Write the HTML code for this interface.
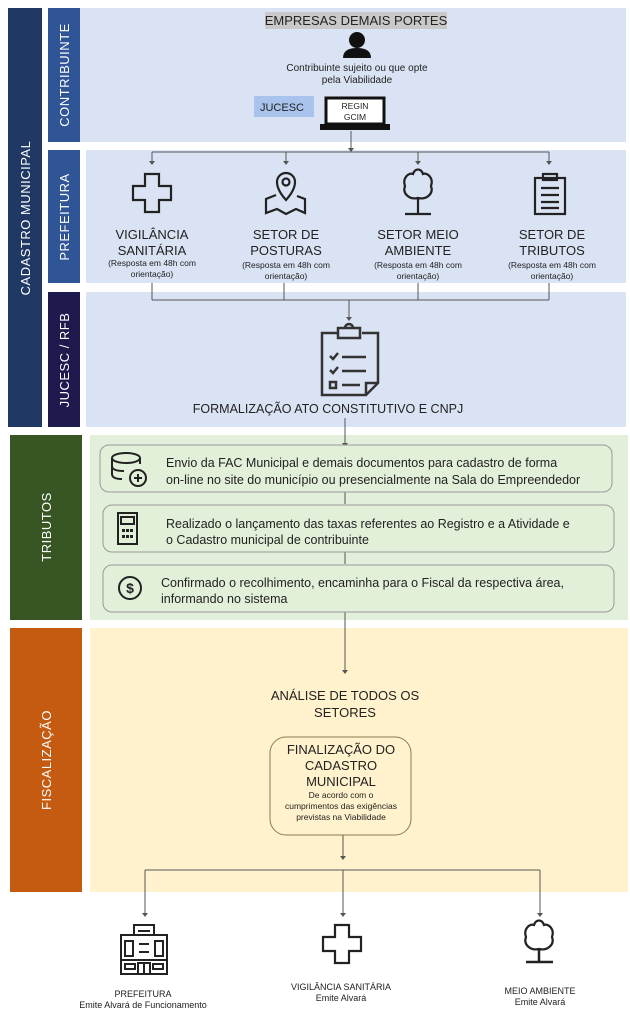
<!DOCTYPE html>
<html><head><meta charset="utf-8"><style>
html,body{margin:0;padding:0;background:#fff;}
svg{display:block;font-family:"Liberation Sans",Arial,sans-serif;}
</style></head><body>
<svg width="630" height="1024" viewBox="0 0 630 1024" xmlns="http://www.w3.org/2000/svg">
<!-- lanes -->
<rect x="8" y="8" width="34" height="419" fill="#1f3864"/>
<rect x="48" y="8" width="32" height="134" fill="#2f5597"/>
<rect x="80" y="8" width="546" height="134" fill="#dae3f3"/>
<rect x="48" y="150" width="32" height="133" fill="#2f5597"/>
<rect x="86" y="150" width="540" height="133" fill="#dae3f3"/>
<rect x="48" y="292" width="32" height="135" fill="#1e1a4d"/>
<rect x="86" y="292" width="540" height="135" fill="#dae3f3"/>
<rect x="10" y="435" width="72" height="185" fill="#375623"/>
<rect x="90" y="435" width="538" height="185" fill="#e2efda"/>
<rect x="10" y="628" width="72" height="264" fill="#c55a11"/>
<rect x="90" y="628" width="538" height="264" fill="#fff2cc"/>

<g fill="#fff" font-size="13" text-anchor="middle">
<text transform="translate(30,218) rotate(-90)" letter-spacing="0.5">CADASTRO MUNICIPAL</text>
<text transform="translate(69,75) rotate(-90)" letter-spacing="0.5">CONTRIBUINTE</text>
<text transform="translate(69,217) rotate(-90)" letter-spacing="0.5">PREFEITURA</text>
<text transform="translate(69,360) rotate(-90)" letter-spacing="0.5">JUCESC / RFB</text>
<text transform="translate(51,527) rotate(-90)" letter-spacing="0.5">TRIBUTOS</text>
<text transform="translate(51,760) rotate(-90)" letter-spacing="0.5">FISCALIZAÇÃO</text>
</g>

<!-- contribuinte -->
<rect x="265" y="12" width="182" height="17" fill="#c9c9c9"/>
<text x="356" y="25" font-size="13" text-anchor="middle" fill="#222">EMPRESAS DEMAIS PORTES</text>
<circle cx="357" cy="40" r="8" fill="#111"/>
<path d="M343 58 Q343 48 357 48 Q371 48 371 58 Z" fill="#111"/>
<text x="357" y="71" font-size="10" text-anchor="middle" fill="#222">Contribuinte sujeito ou que opte</text>
<text x="357" y="83" font-size="10" text-anchor="middle" fill="#222">pela Viabilidade</text>
<rect x="254" y="96" width="60" height="21" fill="#a9c4ec"/>
<text x="282" y="111" font-size="11" text-anchor="middle" fill="#222">JUCESC</text>
<rect x="326" y="98" width="58" height="26" fill="#fff" stroke="#111" stroke-width="3"/>
<rect x="320" y="124" width="70" height="6" fill="#111"/>
<text x="355" y="109" font-size="8.5" text-anchor="middle" fill="#222">REGIN</text>
<text x="355" y="120" font-size="8.5" text-anchor="middle" fill="#222">GCIM</text>

<!-- connectors -->
<g stroke="#555" stroke-width="1" fill="none">
<line x1="351" y1="131" x2="351" y2="150"/>
<line x1="152" y1="152" x2="549" y2="152"/>
<line x1="152" y1="152" x2="152" y2="162"/><line x1="286" y1="152" x2="286" y2="162"/>
<line x1="418" y1="152" x2="418" y2="162"/><line x1="549" y1="152" x2="549" y2="162"/>
<line x1="152" y1="283" x2="152" y2="300"/><line x1="284" y1="283" x2="284" y2="300"/>
<line x1="418" y1="283" x2="418" y2="300"/><line x1="549" y1="283" x2="549" y2="300"/>
<line x1="152" y1="300" x2="549" y2="300"/>
<line x1="349" y1="300" x2="349" y2="318"/>
<line x1="345" y1="418" x2="345" y2="445"/>
<line x1="345" y1="492" x2="345" y2="504"/>
<line x1="345" y1="552" x2="345" y2="564"/>
<line x1="345" y1="612" x2="345" y2="672"/>
<line x1="343" y1="835" x2="343" y2="858"/>
<line x1="145" y1="870" x2="540" y2="870"/>
<line x1="145" y1="870" x2="145" y2="914"/><line x1="343" y1="870" x2="343" y2="914"/><line x1="540" y1="870" x2="540" y2="914"/>
</g>
<g fill="#555">
<path d="M149 161 L155 161 L152 165Z"/><path d="M283 161 L289 161 L286 165Z"/>
<path d="M415 161 L421 161 L418 165Z"/><path d="M546 161 L552 161 L549 165Z"/>
<path d="M348 148 L354 148 L351 152Z"/>
<path d="M346 317 L352 317 L349 321Z"/>
<path d="M342 443 L348 443 L345 447Z"/>
<path d="M342 670 L348 670 L345 674Z"/>
<path d="M340 856 L346 856 L343 860Z"/>
<path d="M142 913 L148 913 L145 917Z"/><path d="M340 913 L346 913 L343 917Z"/><path d="M537 913 L543 913 L540 917Z"/>
</g>

<!-- prefeitura icons -->
<g fill="none" stroke="#222" stroke-width="2.2">
<path d="M145 174 h14 v12 h12 v14 h-12 v12 h-14 v-12 h-12 v-14 h12 z"/>
<path d="M277 182 a9 9 0 1 1 18 0 q0 8 -9 18 q-9 -10 -9 -18z"/><circle cx="286" cy="182" r="3.5"/>
<path d="M276 195 l-10 4 v14 l11 -4 l9 5 l10 -5 l9 4 v-14 l-8 -3"/>
<path d="M418 214 v-16 M405 214 h26"/>
<path d="M418 198 c-8 2 -16 -4 -13 -12 c-3 -8 4 -14 8 -12 c2 -6 8 -6 10 0 c4 -2 11 4 8 12 c3 8 -5 14 -13 12z"/>
<rect x="535" y="178" width="30" height="36"/><rect x="543" y="174" width="14" height="6"/>
<path d="M541 188 h18 M541 195 h18 M541 202 h18 M541 208 h18"/>
</g>
<g text-anchor="middle" fill="#222">
<g font-size="13"><text x="152" y="239">VIGILÂNCIA</text><text x="152" y="255">SANITÁRIA</text>
<text x="286" y="239">SETOR DE</text><text x="286" y="255">POSTURAS</text>
<text x="418" y="239">SETOR MEIO</text><text x="418" y="255">AMBIENTE</text>
<text x="552" y="239">SETOR DE</text><text x="552" y="255">TRIBUTOS</text></g>
<g font-size="8.5"><text x="152" y="266">(Resposta em 48h com</text><text x="152" y="277">orientação)</text>
<text x="286" y="268">(Resposta em 48h com</text><text x="286" y="279">orientação)</text>
<text x="418" y="268">(Resposta em 48h com</text><text x="418" y="279">orientação)</text>
<text x="552" y="268">(Resposta em 48h com</text><text x="552" y="279">orientação)</text></g>
</g>

<!-- clipboard -->
<g fill="none" stroke="#333" stroke-width="2.5">
<path d="M338 333 h-16 v62 h44 l12 -12 v-50 h-16"/>
<rect x="338" y="328" width="22" height="10"/><path d="M345 328 a4 4 0 0 1 8 0"/>
<path d="M366 395 v-12 h12"/>
<path d="M330 356 l3 3 l5 -6 M342 357 h24 M330 370 l3 3 l5 -6 M342 371 h24 M342 385 h18"/>
<rect x="330" y="382" width="6" height="6"/>
</g>
<text x="328" y="413" font-size="12.5" text-anchor="middle" fill="#222">FORMALIZAÇÃO ATO CONSTITUTIVO E CNPJ</text>

<!-- tributos boxes -->
<g fill="#e2efd9" stroke="#999" stroke-width="1">
<rect x="100" y="445" width="512" height="47" rx="9"/>
<rect x="103" y="505" width="511" height="47" rx="9"/>
<rect x="103" y="565" width="511" height="47" rx="9"/>
</g>
<g fill="none" stroke="#222" stroke-width="2">
<ellipse cx="126" cy="458" rx="14" ry="5"/><path d="M112 458 v16 q0 5 10 5 M112 466 q0 5 12 5 M140 458 v6"/>
<circle cx="138" cy="478" r="8"/><path d="M138 474 v8 M134 478 h8"/>
<rect x="118" y="513" width="19" height="31"/><rect x="121" y="517" width="13" height="7"/>
<circle cx="130" cy="588" r="11"/>
</g>
<g fill="#222"><rect x="122" y="529" width="3" height="3"/><rect x="126" y="529" width="3" height="3"/><rect x="130" y="529" width="3" height="3"/>
<rect x="122" y="535" width="3" height="3"/><rect x="126" y="535" width="3" height="3"/><rect x="130" y="535" width="3" height="3"/></g>
<text x="130" y="593" font-size="14" font-weight="bold" text-anchor="middle" fill="#222">$</text>
<g font-size="12.5" fill="#222">
<text x="166" y="467">Envio da FAC Municipal e demais documentos para cadastro de forma</text>
<text x="166" y="484">on-line no site do município ou presencialmente na Sala do Empreendedor</text>
<text x="166" y="528">Realizado o lançamento das taxas referentes ao Registro e a Atividade e</text>
<text x="166" y="544">o Cadastro municipal de contribuinte</text>
<text x="161" y="587">Confirmado o recolhimento, encaminha para o Fiscal da respectiva área,</text>
<text x="161" y="603">informando no sistema</text>
</g>

<!-- fiscalizacao -->
<g font-size="13" text-anchor="middle" fill="#222"><text x="345" y="700">ANÁLISE DE TODOS OS</text><text x="345" y="717">SETORES</text></g>
<rect x="270" y="737" width="141" height="98" rx="16" fill="#fff2cc" stroke="#8a7a50" stroke-width="1"/>
<g text-anchor="middle" fill="#222"><g font-size="13"><text x="341" y="754">FINALIZAÇÃO DO</text><text x="341" y="770">CADASTRO</text><text x="341" y="786">MUNICIPAL</text></g>
<g font-size="8.5"><text x="341" y="798">De acordo com o</text><text x="341" y="809">cumprimentos das exigências</text><text x="341" y="820">previstas na Viabilidade</text></g></g>

<!-- bottom icons -->
<g fill="none" stroke="#222" stroke-width="2">
<rect x="121" y="935" width="46" height="39"/><rect x="134" y="925" width="20" height="10"/>
<path d="M138 931 h12 M139 944 h10 M139 952 h10 M121 960 h46"/>
<rect x="125" y="941" width="8" height="15"/><rect x="155" y="941" width="8" height="15"/>
<rect x="125" y="964" width="10" height="5"/><rect x="153" y="964" width="10" height="5"/>
<path d="M138 974 v-11 h12 v11 M144 963 v11"/>
<path d="M335 925 h14 v12 h12 v14 h-12 v12 h-14 v-12 h-12 v-14 h12 z" stroke-width="2.2"/>
<path d="M539 962 v-13 M526 962 h27" stroke-width="2.5"/>
<path d="M539 949 c-8 2 -16 -4 -13 -12 c-3 -8 4 -14 8 -12 c2 -6 8 -6 10 0 c4 -2 11 4 8 12 c3 8 -5 14 -13 12z" stroke-width="2.2"/>
</g>
<g text-anchor="middle" fill="#222" font-size="9">
<text x="143" y="1066" display="none"></text>
<text x="143" y="997">PREFEITURA</text><text x="143" y="1008">Emite Alvará de Funcionamento</text>
<text x="341" y="990">VIGILÂNCIA SANITÁRIA</text><text x="341" y="1001">Emite Alvará</text>
<text x="540" y="994">MEIO AMBIENTE</text><text x="540" y="1005">Emite Alvará</text>
</g>
</svg>
</body></html>
